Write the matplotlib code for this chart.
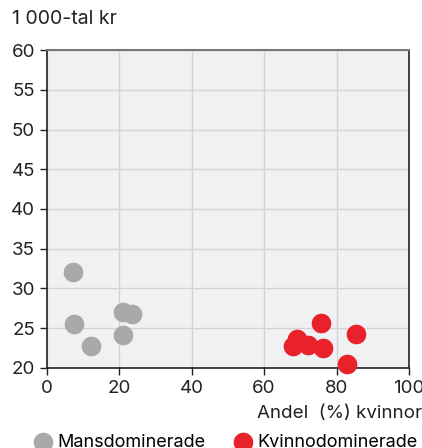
import matplotlib
matplotlib.use("Agg")
from matplotlib import pyplot as plt

plt.rcParams['font.family'] = ['Inter', 'DejaVu Sans']

# Andel kvinnor (%) och lön (1 000-tal kr)
man_x = [7.2, 7.5, 12.1, 21.0, 23.6, 20.9]
man_y = [32.1, 25.5, 22.8, 27.0, 26.75, 24.15]
kvinna_x = [68.0, 69.2, 72.2, 75.6, 76.3, 85.4, 82.8]
kvinna_y = [22.7, 23.6, 22.9, 25.6, 22.5, 24.3, 20.5]

grey = '#a8a9ab'
red = '#e8212b'

fig = plt.figure(figsize=(4.22, 4.48), dpi=100)
ax = fig.add_axes([0.111, 0.179, 0.858, 0.709])
ax.set_facecolor('#f0f1f3')

ax.scatter(man_x, man_y, s=200, color=grey, clip_on=False, zorder=5, linewidths=0)
ax.scatter(kvinna_x, kvinna_y, s=200, color=red, clip_on=False, zorder=5, linewidths=0)

ax.set_xlim(0, 100)
ax.set_ylim(20, 60)
ax.set_xticks(range(0, 101, 20))
ax.set_yticks(range(20, 61, 5))
ax.grid(True, color='#d2d3d5', linewidth=1)
ax.set_axisbelow(True)

for side in ['left', 'bottom', 'right']:
    ax.spines[side].set_color('#222222')
    ax.spines[side].set_linewidth(1.2)
ax.spines['top'].set_color('#777777')
ax.spines['top'].set_linewidth(1.5)

ax.tick_params(axis='both', labelsize=13.5, colors='#222222', length=5, width=1)
ax.tick_params(axis='x', pad=4)

fig.text(0.028, 0.958, '1 000-tal kr', fontsize=14, color='#222222', va='center')
fig.text(1.0, 0.078, 'Andel  (%) kvinnor', fontsize=13.5, color='#222222',
         ha='right', va='center')

ax.scatter([], [], s=200, color=grey, label='Mansdominerade', linewidths=0)
ax.scatter([], [], s=200, color=red, label='Kvinnodominerade', linewidths=0)
fig.legend(loc='center left', bbox_to_anchor=(0.063, 0.012), ncol=2, frameon=False,
           fontsize=13, handlelength=1.0, handletextpad=0.3, columnspacing=1.6,
           borderaxespad=0)

fig.savefig('out.png', dpi=100)
